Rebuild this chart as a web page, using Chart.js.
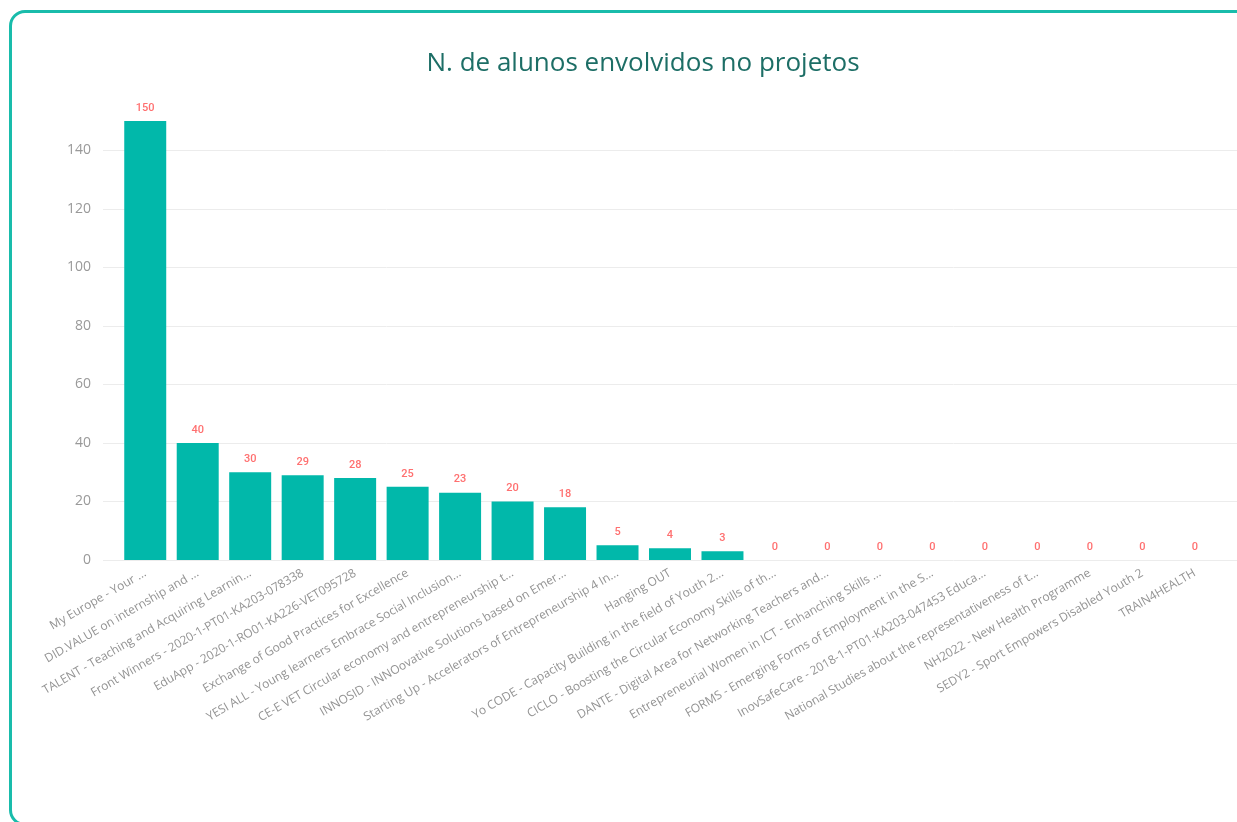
<!DOCTYPE html>
<html>
<head>
<meta charset="utf-8">
<script src="https://cdn.jsdelivr.net/npm/chart.js@4"></script>
<style>
  html, body { margin: 0; padding: 0; background: #fff; overflow: hidden; }
  #wrap { position: relative; width: 1237px; height: 822px; overflow: hidden; }
  #frame { position: absolute; left: 9px; top: 10px; width: 1245px; height: 816px; box-sizing: border-box;
           border: 3px solid #19bcab; border-radius: 16px; pointer-events: none; }
  canvas { position: absolute; left: 0; top: 0; }
</style>
</head>
<body>
<div id="wrap">
  <canvas id="c" width="1237" height="822"></canvas>
  <div id="frame"></div>
</div>
<script>
const chartTitle = "N. de alunos envolvidos no projetos";
const categories = [
  "My Europe - Your ...",
  "DID.VALUE on internship and ...",
  "TALENT - Teaching and Acquiring Learnin...",
  "Front Winners - 2020-1-PT01-KA203-078338",
  "EduApp - 2020-1-RO01-KA226-VET095728",
  "Exchange of Good Practices for Excellence",
  "YESI ALL - Young learners Embrace Social Inclusion...",
  "CE-E VET Circular economy and entrepreneurship t...",
  "INNOSID - INNOovative Solutions based on Emer...",
  "Starting Up - Accelerators of Entrepreneurship 4 In...",
  "Hanging OUT",
  "Yo CODE - Capacity Building in the field of Youth 2...",
  "CICLO - Boosting the Circular Economy Skills of th...",
  "DANTE - Digital Area for Networking Teachers and...",
  "Entrepreneurial Women in ICT - Enhanching Skills ...",
  "FORMS - Emerging Forms of Employment in the S...",
  "InovSafeCare - 2018-1-PT01-KA203-047453 Educa...",
  "National Studies about the representativeness of t...",
  "NH2022 - New Health Programme",
  "SEDY2 - Sport Empowers Disabled Youth 2",
  "TRAIN4HEALTH"
];
const students = [150, 40, 30, 29, 28, 25, 23, 20, 18, 5, 4, 3, 0, 0, 0, 0, 0, 0, 0, 0, 0];
const yTicks = [0, 20, 40, 60, 80, 100, 120, 140];

const titlePlugin = {
  id: 'customTitle',
  afterDraw(chart) {
    const ctx = chart.ctx;
    ctx.save();
    ctx.fillStyle = '#1d6e66';
    ctx.font = '26px "Open Sans", sans-serif';
    ctx.textAlign = 'center';
    ctx.textBaseline = 'middle';
    ctx.fillText(chartTitle, 643, 64);
    ctx.restore();
  }
};

const gridPlugin = {
  id: 'wideGrid',
  beforeDatasetsDraw(chart) {
    const ctx = chart.ctx, y = chart.scales.y;
    ctx.save();
    ctx.strokeStyle = '#ececec';
    ctx.lineWidth = 1;
    yTicks.forEach(v => {
      const py = Math.round(y.getPixelForValue(v)) + 0.5;
      ctx.beginPath();
      ctx.moveTo(103, py);
      ctx.lineTo(chart.width, py);
      ctx.stroke();
    });
    ctx.restore();
  }
};

const labelPlugin = {
  id: 'valueLabels',
  afterDatasetsDraw(chart) {
    const ctx = chart.ctx;
    const meta = chart.getDatasetMeta(0);
    ctx.save();
    ctx.fillStyle = '#ff7070';
    ctx.font = '500 11px Roboto, "DejaVu Sans", sans-serif';
    ctx.textAlign = 'center';
    ctx.textBaseline = 'middle';
    meta.data.forEach((bar, i) => {
      ctx.fillText(String(students[i]), bar.x, bar.y - 13);
    });
    ctx.restore();
  }
};

new Chart(document.getElementById('c'), {
  type: 'bar',
  data: {
    labels: categories,
    datasets: [{
      data: students,
      backgroundColor: '#01b8aa',
      borderWidth: 0,
      barPercentage: 0.8,
      categoryPercentage: 1.0
    }]
  },
  options: {
    responsive: false,
    animation: false,
    layout: { padding: { left: 0, right: 16, top: 121, bottom: 0 } },
    plugins: {
      legend: { display: false },
      tooltip: { enabled: false },
      title: { display: false }
    },
    scales: {
      x: {
        grid: { display: false, drawTicks: false },
        border: { display: false },
        ticks: {
          autoSkip: false,
          minRotation: 30,
          maxRotation: 30,
          padding: 6,
          color: '#939393',
          font: { family: '"Open Sans", sans-serif', size: 12 }
        },
        afterFit(scale) { scale.height = 262; }
      },
      y: {
        min: 0,
        max: 150,
        grid: { display: false, drawTicks: false },
        border: { display: false },
        afterBuildTicks(scale) { scale.ticks = yTicks.map(v => ({ value: v })); },
        ticks: {
          padding: 28,
          color: '#999999',
          font: { family: '"Open Sans", sans-serif', size: 14 }
        },
        afterFit(scale) { scale.width = 119; }
      }
    }
  },
  plugins: [gridPlugin, labelPlugin, titlePlugin]
});
</script>
</body>
</html>
